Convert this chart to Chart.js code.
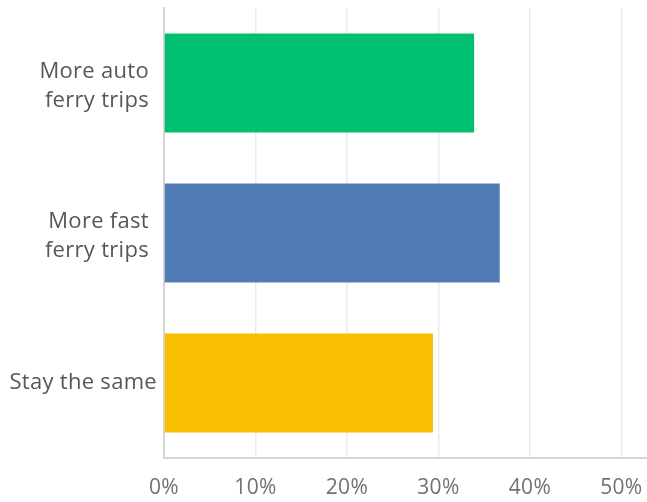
<!DOCTYPE html>
<html>
<head>
<meta charset="utf-8">
<script src="https://cdn.jsdelivr.net/npm/chart.js@4/dist/chart.umd.min.js"></script>
<style>
  html, body { margin: 0; padding: 0; background: #fff; }
  #wrap { width: 647px; height: 502px; position: relative; }
</style>
</head>
<body>
<div id="wrap"><canvas id="ferry-chart"></canvas></div>
<script>
// Survey answers and their share of responses (%)
const answers = [['More auto', 'ferry trips'], ['More fast', 'ferry trips'], 'Stay the same'];
const shares = [33.9, 36.7, 29.4];
const barColors = ['#00bf6f', '#507cb6', '#f9be00'];
const tickValues = [0, 10, 20, 30, 40, 50];

const fontFamily = "'Open Sans', 'DejaVu Sans', sans-serif";

// slightly looser lettering for all chart text
const spacingPlugin = {
    id: 'letterSpacing',
    beforeInit: chart => { chart.ctx.letterSpacing = '0.3px'; },
    beforeDraw: chart => { chart.ctx.letterSpacing = '0.3px'; }
};

// wrapped answer labels sit a little further in from the axis
const wrapNudge = {
    id: 'wrapNudge',
    beforeDraw: chart => {
        const y = chart.scales.y;
        y.getLabelItems(chart.chartArea).forEach(item => {
            if (Array.isArray(item.label)) {
                item.options.translation[0] -= 8;
                item.options.translation[1] += 3;
            }
        });
    }
};

document.addEventListener('DOMContentLoaded', () => {
    const ctx = document.getElementById('ferry-chart').getContext('2d');
    new Chart(ctx, {
        type: 'bar',
        data: {
            labels: answers,
            datasets: [{
                data: shares,
                backgroundColor: barColors,
                borderWidth: 0,
                barPercentage: 0.66,
                categoryPercentage: 1
            }]
        },
        plugins: [spacingPlugin, wrapNudge],
        options: {
            indexAxis: 'y',
            responsive: true,
            maintainAspectRatio: false,
            animation: false,
            layout: { padding: { top: 8, right: 0, bottom: 0, left: 0 } },
            scales: {
                x: {
                    min: 0,
                    max: 52.8,
                    ticks: {
                        stepSize: 10,
                        includeBounds: false,
                        padding: 17,
                        color: '#6f7275',
                        font: { family: fontFamily, size: 21 },
                        maxRotation: 0,
                        callback: v => v + '%'
                    },
                    afterBuildTicks: scale => {
                        scale.ticks = tickValues.map(v => ({ value: v }));
                    },
                    afterFit: scale => {
                        scale.height = 44;
                        scale.paddingLeft = 0;
                        scale.paddingRight = 0;
                    },
                    grid: { color: '#ebebeb', lineWidth: 1.5, drawTicks: false },
                    border: { color: '#d6d6d6', width: 2 }
                },
                y: {
                    ticks: {
                        padding: 7,
                        color: '#53585d',
                        font: { family: fontFamily, size: 22, lineHeight: 1.32 }
                    },
                    afterFit: scale => {
                        scale.width = 164;
                        scale.paddingTop = 0;
                        scale.paddingBottom = 0;
                    },
                    grid: { display: false, drawTicks: false },
                    border: { color: '#d6d6d6', width: 2 }
                }
            },
            plugins: {
                legend: { display: false },
                tooltip: { enabled: false }
            }
        }
    });
});
</script>
</body>
</html>
